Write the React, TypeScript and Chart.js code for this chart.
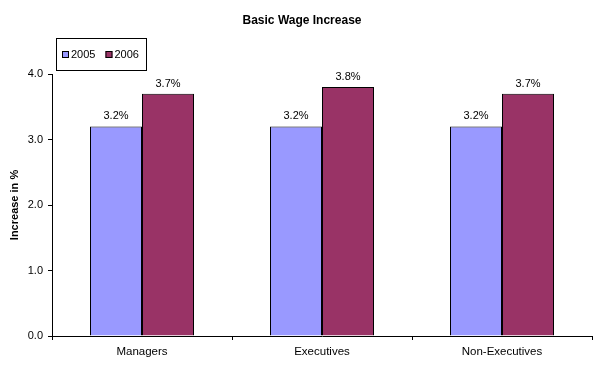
import React, { useEffect, useRef } from "react";
import { Chart, registerables } from "chart.js";

Chart.register(...registerables);

const categories = ["Managers", "Executives", "Non-Executives"];
const seriesLabels = ["2005", "2006"];
const values2005 = [3.2, 3.2, 3.2];
const values2006 = [3.7, 3.8, 3.7];
const yTicks = [0, 1, 2, 3, 4];
const colors = ["#9999FF", "#993366"];
const titleText = "Basic Wage Increase";
const yTitle = "Increase in %";

const FONT = "Arial, 'Liberation Sans', sans-serif";

const overlay = {
  id: "overlay",
  afterDatasetsDraw(chart: any) {
    const ctx = chart.ctx;
    ctx.save();
    // data labels
    ctx.font = `11px ${FONT}`;
    ctx.fillStyle = "#000";
    ctx.textAlign = "center";
    ctx.textBaseline = "alphabetic";
    chart.data.datasets.forEach((ds: any, i: number) => {
      const meta = chart.getDatasetMeta(i);
      meta.data.forEach((bar: any, j: number) => {
        ctx.fillText(Number(ds.data[j]).toFixed(1) + "%", bar.x, bar.y - 7);
      });
    });
    // title
    ctx.font = `bold 12px ${FONT}`;
    ctx.textBaseline = "middle";
    ctx.fillText(titleText, chart.width / 2, 13);
    // legend
    const bx = 48, by = 30, bw = 90, bh = 32;
    ctx.strokeStyle = "#000";
    ctx.lineWidth = 1;
    ctx.strokeRect(bx + 0.5, by + 0.5, bw, bh);
    ctx.font = `11px ${FONT}`;
    ctx.textAlign = "left";
    ctx.textBaseline = "middle";
    const cy = by + bh / 2 + 0.5;
    let x = bx + 6;
    chart.data.datasets.forEach((ds: any) => {
      ctx.fillStyle = ds.backgroundColor;
      ctx.fillRect(x, Math.round(cy - 3.5), 7, 7);
      ctx.strokeRect(x + 0.5, Math.round(cy - 3.5) + 0.5, 6, 6);
      x += 9;
      ctx.fillStyle = "#000";
      ctx.fillText(ds.label, x, cy);
      x += ctx.measureText(ds.label).width + 10;
    });
    ctx.restore();
  },
};

export default function App() {
  const ref = useRef<HTMLCanvasElement | null>(null);
  useEffect(() => {
    if (!ref.current) return;
    const chart = new Chart(ref.current, {
      type: "bar",
      data: {
        labels: categories,
        datasets: [
          {
            label: seriesLabels[0],
            data: values2005,
            backgroundColor: colors[0],
            borderColor: "#000",
            borderWidth: 1,
            categoryPercentage: 104 / 180,
            barPercentage: 1,
          },
          {
            label: seriesLabels[1],
            data: values2006,
            backgroundColor: colors[1],
            borderColor: "#000",
            borderWidth: 1,
            categoryPercentage: 104 / 180,
            barPercentage: 1,
          },
        ],
      },
      options: {
        responsive: false,
        animation: false,
        devicePixelRatio: 1,
        layout: { padding: { top: 66, right: 4, left: 0, bottom: 0 } },
        plugins: {
          legend: { display: false },
          title: { display: false },
          tooltip: { enabled: false },
        },
        scales: {
          x: {
            grid: {
              display: true,
              drawOnChartArea: false,
              drawTicks: true,
              tickLength: 4,
              color: "#000",
              offset: true,
            },
            border: { display: true, color: "#000", width: 1 },
            ticks: {
              color: "#000",
              font: { family: FONT, size: 11.5 },
              padding: 5,
              maxRotation: 0,
              autoSkip: false,
            },
            afterFit: (s: any) => {
              s.height = 28;
            },
          },
          y: {
            min: 0,
            max: 4,
            afterBuildTicks: (s: any) => {
              s.ticks = yTicks.map((v) => ({ value: v }));
            },
            ticks: {
              callback: (v: any) => Number(v).toFixed(1),
              color: "#000",
              font: { family: FONT, size: 11 },
              padding: 5,
            },
            grid: { drawOnChartArea: false, tickLength: 4, color: "#000" },
            border: { color: "#000" },
            title: {
              display: true,
              text: yTitle,
              color: "#000",
              font: { family: FONT, size: 11, weight: "bold" },
              padding: 0,
            },
            afterFit: (s: any) => {
              s.width = 44;
            },
          },
        },
      },
      plugins: [overlay],
    } as any);
    return () => chart.destroy();
  }, []);
  return (
    <div style={{ width: 588, height: 356 }}>
      <canvas ref={ref} width={588} height={356} style={{ display: "block" }} />
    </div>
  );
}
